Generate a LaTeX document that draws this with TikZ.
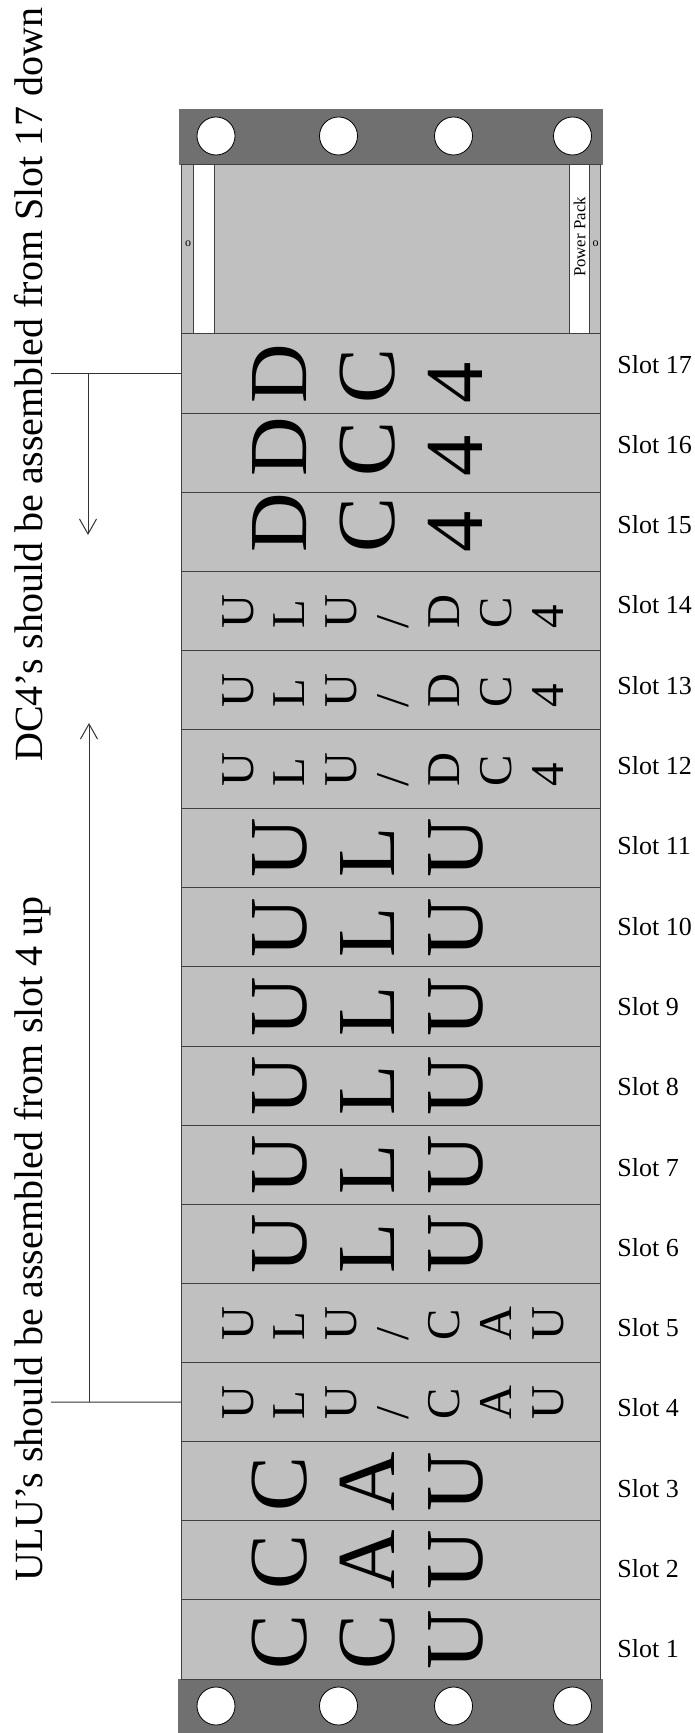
\documentclass[tikz,border=0pt]{standalone}
\usepackage{fontspec}
\setmainfont{Liberation Serif}
\usetikzlibrary{arrows.meta, positioning}
\definecolor{slotgrey}{HTML}{C0C0C0}
\definecolor{bargrey}{HTML}{707070}
\definecolor{edgegrey}{HTML}{404040}
\tikzset{
  slotbox/.style={draw=edgegrey, fill=slotgrey, line width=0.5pt, minimum width=209.25pt, minimum height=39.56pt, inner sep=0pt},
  hole/.style={circle, draw=black, fill=white, line width=0.4pt, minimum size=19pt, inner sep=0pt},
  bigchar/.style={rotate=90, anchor=base west, inner sep=0pt, font=\fontsize{41.2}{45}\selectfont},
  smallchar/.style={rotate=90, anchor=base west, inner sep=0pt, font=\fontsize{23.5}{26}\selectfont},
  sidenote/.style={rotate=90, anchor=base west, inner sep=0pt, font=\fontsize{20}{24}\selectfont},
  leader/.style={draw=black!80, line width=0.5pt},
  assemble/.style={leader, -{Straight Barb[length=7.5pt, width=8.5pt]}}
}
\begin{document}
\begin{tikzpicture}[x=0.5pt, y=-0.5pt, font=\fontsize{13}{15}\selectfont]
    \useasboundingbox (0,0) rectangle (695,1733);
    \fill[bargrey] (179,109) rectangle (603,165);
    \fill[bargrey] (178,1679) rectangle (603,1733);
    \foreach \hx [count=\h] in {216,338.5,453.5,572.5} {
        \node[hole] (ht\h) at (\hx,136) {};
        \node[hole] (hb\h) at (\hx,1706) {};
    }
    \draw[edgegrey, fill=slotgrey, line width=0.5pt] (181.5,165) rectangle (600,334);
    \draw[edgegrey, fill=white, line width=0.5pt] (193,165) rectangle (214,334);
    \draw[edgegrey, fill=white, line width=0.5pt] (569,165) rectangle (589,334);
    \node[rotate=90, inner sep=0pt, font=\fontsize{8.4}{10}\selectfont] (pp) at (579.5,237) {Power Pack};
    \node[inner sep=0pt, font=\fontsize{6}{7}\selectfont] (pl) at (188,244) {o};
    \node[inner sep=0pt, font=\fontsize{6}{7}\selectfont] (pr) at (595.5,244) {o};
    \foreach \k in {1,...,17} {
        \node[slotbox] (s\k) at (390.75,{373.56+(17-\k)*79.12}) {};
        \node[anchor=base west, inner sep=0pt] (l\k) at (617,{373+(17-\k)*80.3}) {Slot \k};
    }
    \foreach \k/\word/\off in {17/{D,C,4}/30, 16/{D,C,4}/24.5, 15/{D,C,4}/21.5,
        11/{U,L,U}/30, 10/{U,L,U}/30, 9/{U,L,U}/30, 8/{U,L,U}/30, 7/{U,L,U}/30, 6/{U,L,U}/30,
        3/{C,A,U}/31, 2/{C,A,U}/30, 1/{C,C,U}/30}
        \foreach \c [count=\i from 0] in \word
            \node[bigchar] (b\k-\i) at ({306+88*\i},{373.56+(17-\k)*79.12+\off}) {\c};
    \foreach \k/\word in {14/{U,L,U,{/},D,C,4}, 13/{U,L,U,{/},D,C,4}, 12/{U,L,U,{/},D,C,4},
        5/{U,L,U,{/},C,A,U}, 4/{U,L,U,{/},C,A,U}}
        \foreach \c [count=\i from 0] in \word
            \node[smallchar] (m\k-\i) at ({253+51.67*\i},{373.56+(17-\k)*79.12+18}) {\c};
    \node[sidenote] (dcnote) at (42,762) {DC4's should be assembled from Slot 17 down};
    \node[sidenote] (ulunote) at (42,1582) {ULU's should be assembled from slot 4 up};
    \coordinate (dcfoot) at (51,373.56);
    \coordinate (dcbend) at (88,373.56);
    \coordinate (dctip) at (88,535);
    \draw[leader] (dcfoot) -- (s17.west);
    \draw[assemble] (dcbend) -- (dctip);
    \coordinate (ulufoot) at (51,1402);
    \coordinate (ulubend) at (89,1402);
    \coordinate (ulutip) at (89,723);
    \draw[leader] (ulufoot) -- (s4.west);
    \draw[assemble] (ulubend) -- (ulutip);
\end{tikzpicture}
\end{document}
